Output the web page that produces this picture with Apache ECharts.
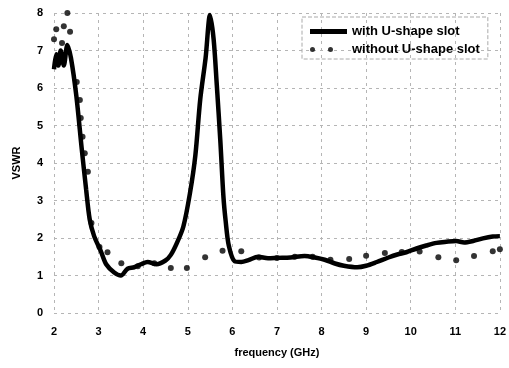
<!DOCTYPE html>
<html>
<head>
<meta charset="utf-8">
<script src="https://cdn.jsdelivr.net/npm/echarts@6/dist/echarts.min.js"></script>
<style>
  html, body { margin: 0; padding: 0; background: #fff; }
  #chart { width: 509px; height: 368px; }
</style>
</head>
<body>
<div id="chart"></div>
<script>
// frequency (GHz) / VSWR
var withSlotFreq = [2.0, 2.05, 2.1, 2.15, 2.22, 2.3, 2.38, 2.5, 2.62, 2.72, 2.8, 2.9, 3.05, 3.17, 3.35, 3.5, 3.65, 3.8, 3.95, 4.1, 4.3, 4.5, 4.62, 4.75, 4.9, 5.05, 5.17, 5.28, 5.4, 5.5, 5.58, 5.65, 5.73, 5.8, 5.85, 5.92, 6.05, 6.2, 6.36, 6.58, 6.8, 7.02, 7.3, 7.62, 7.85, 8.07, 8.3, 8.5, 8.8, 9.0, 9.24, 9.5, 9.7, 9.9, 10.13, 10.35, 10.58, 10.8, 11.02, 11.2, 11.4, 11.62, 11.84, 12.0];
var withSlotVswr = [6.5, 6.9, 6.6, 7.0, 6.6, 7.15, 6.8, 5.8, 4.4, 3.3, 2.5, 2.05, 1.65, 1.3, 1.08, 1.0, 1.18, 1.22, 1.3, 1.36, 1.3, 1.4, 1.55, 1.85, 2.3, 3.2, 4.2, 5.7, 6.8, 7.95, 7.3, 6.1, 4.6, 3.1, 2.45, 1.8, 1.38, 1.36, 1.41, 1.5, 1.46, 1.47, 1.48, 1.52, 1.48, 1.42, 1.32, 1.26, 1.22, 1.26, 1.36, 1.48, 1.56, 1.62, 1.72, 1.8, 1.87, 1.9, 1.92, 1.88, 1.92, 1.99, 2.04, 2.05];

var noSlotFreq = [2.0, 2.05, 2.18, 2.22, 2.3, 2.36, 2.51, 2.58, 2.6, 2.64, 2.69, 2.76, 2.84, 3.02, 3.2, 3.51, 3.88, 4.25, 4.62, 4.98, 5.39, 5.78, 6.2, 6.6, 7.0, 7.4, 7.8, 8.2, 8.62, 9.0, 9.42, 9.8, 10.2, 10.62, 11.02, 11.42, 11.84, 12.0];
var noSlotVswr = [7.3, 7.57, 7.2, 7.65, 8.0, 7.5, 6.16, 5.68, 5.2, 4.7, 4.26, 3.77, 2.4, 1.76, 1.62, 1.33, 1.25, 1.33, 1.2, 1.2, 1.49, 1.66, 1.65, 1.48, 1.47, 1.5, 1.5, 1.42, 1.44, 1.53, 1.6, 1.63, 1.64, 1.49, 1.41, 1.52, 1.65, 1.7];

var xTicks = [2, 3, 4, 5, 6, 7, 8, 9, 10, 11, 12];
var yTicks = [0, 1, 2, 3, 4, 5, 6, 7, 8];

var font = "'Liberation Sans', Arial, sans-serif";

function pairs(xs, ys) {
  return xs.map(function (x, i) { return [x, ys[i]]; });
}

var chart = echarts.init(document.getElementById("chart"));

var gridLine = {
  show: true,
  lineStyle: { color: "#b5b5b5", type: [3, 4], width: 1 }
};

chart.setOption({
  backgroundColor: "#fff",
  animation: false,
  grid: { left: 54, right: 5, top: 13, bottom: 55 },
  legend: {
    orient: "vertical",
    left: 302,
    top: 17,
    padding: [8, 8, 3, 8],
    itemGap: 5,
    itemWidth: 37,
    itemHeight: 5,
    borderColor: "#aaa",
    borderWidth: 1,
    borderType: "dashed",
    textStyle: { fontFamily: font, fontSize: 13, fontWeight: "bold", color: "#000" },
    data: [
      { name: "with U-shape slot", icon: "rect" },
      {
        name: "without U-shape slot",
        icon: "path://M0,2.5a2.5,2.5 0 1,0 5,0a2.5,2.5 0 1,0 -5,0M18,2.5a2.5,2.5 0 1,0 5,0a2.5,2.5 0 1,0 -5,0M37,2.5L37,2.5"
      }
    ]
  },
  xAxis: {
    type: "value",
    min: xTicks[0],
    max: xTicks[xTicks.length - 1],
    interval: 1,
    name: "frequency (GHz)",
    nameLocation: "middle",
    nameGap: 34,
    nameTextStyle: { fontFamily: font, fontSize: 11, fontWeight: "bold", color: "#000" },
    axisLine: { show: false },
    axisTick: { show: false },
    axisLabel: { margin: 13, fontFamily: font, fontSize: 11, fontWeight: "bold", color: "#000" },
    splitLine: gridLine
  },
  yAxis: {
    type: "value",
    min: yTicks[0],
    max: yTicks[yTicks.length - 1],
    interval: 1,
    name: "VSWR",
    nameLocation: "middle",
    nameGap: 32,
    nameTextStyle: { fontFamily: font, fontSize: 11, fontWeight: "bold", color: "#000" },
    axisLine: { show: false },
    axisTick: { show: false },
    axisLabel: { margin: 11, fontFamily: font, fontSize: 11, fontWeight: "bold", color: "#000" },
    splitLine: gridLine
  },
  series: [
    {
      name: "without U-shape slot",
      type: "scatter",
      symbol: "circle",
      symbolSize: 6,
      itemStyle: { color: "#000" },
      data: pairs(noSlotFreq, noSlotVswr),
      z: 2
    },
    {
      name: "with U-shape slot",
      type: "line",
      smooth: 0.3,
      showSymbol: false,
      lineStyle: { color: "#000", width: 4.5 },
      itemStyle: { color: "#000" },
      data: pairs(withSlotFreq, withSlotVswr),
      z: 3
    }
  ]
});
</script>
</body>
</html>
